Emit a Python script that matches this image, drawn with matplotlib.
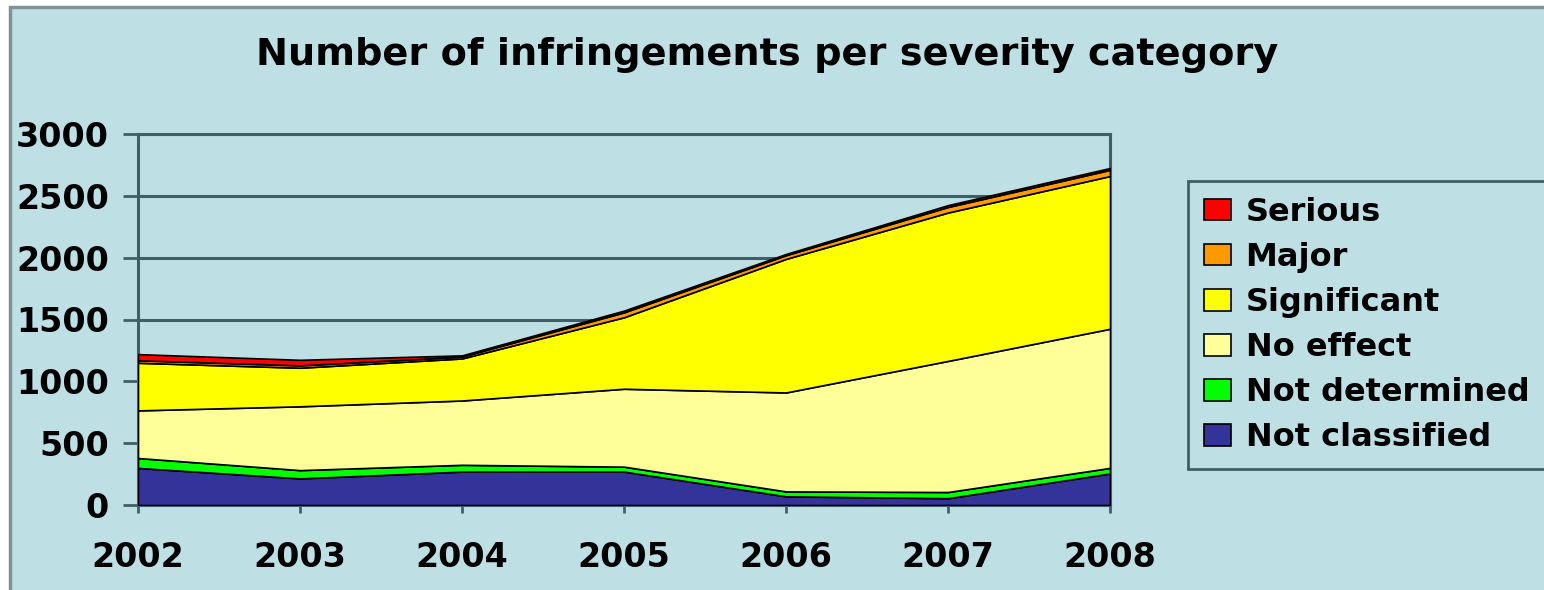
import matplotlib.pyplot as plt
from matplotlib.patches import Rectangle

years = [2002, 2003, 2004, 2005, 2006, 2007, 2008]

# valores (apilados de abajo hacia arriba)
not_classified = [300, 215, 270, 270, 70, 55, 255]
not_determined = [80, 67, 55, 40, 40, 50, 45]
no_effect = [385, 516, 520, 630, 800, 1060, 1125]
significant = [385, 312, 340, 578, 1080, 1200, 1235]
major = [20, 19, 15, 40, 30, 45, 50]
serious = [50, 45, 10, 14, 10, 15, 15]

labels = ['Not classified', 'Not determined', 'No effect', 'Significant', 'Major', 'Serious']
colores = ['#333399', '#00FF00', '#FFFF99', '#FFFF00', '#FF9900', '#FF0000']

y_ticks = [0, 500, 1000, 1500, 2000, 2500, 3000]

fondo = '#BEE0E4'
gris = '#3F5F66'

plt.rcParams['font.family'] = 'DejaVu Sans'
plt.rcParams['font.weight'] = 'bold'

fig = plt.figure(figsize=(15.44, 5.90), dpi=100, facecolor='white')

# marco exterior azul claro
fig.patches.append(Rectangle((10 / 1544, -0.05), 1.1, 1 - 7 / 590 + 0.05,
                             transform=fig.transFigure, facecolor=fondo,
                             edgecolor='#7F9396', linewidth=2.5, zorder=-10))

ax = fig.add_axes([138 / 1544, 1 - 505 / 590, 972 / 1544, 371 / 590])
ax.set_zorder(2)
ax.set_facecolor(fondo)

ax.stackplot(years, not_classified, not_determined, no_effect, significant, major, serious,
             labels=labels, colors=colores, edgecolor='black', linewidth=1.2, zorder=3)

ax.set_xlim(years[0], years[-1])
ax.set_ylim(0, 3000)
ax.set_xticks(years)
ax.set_yticks(y_ticks)
ax.yaxis.grid(True, color=gris, linewidth=2.2, zorder=1)
ax.set_axisbelow(True)

for s in ['left', 'right', 'top', 'bottom']:
    ax.spines[s].set_color(gris)
    ax.spines[s].set_linewidth(2.2)

ax.tick_params(axis='y', length=11, width=2, color=gris, pad=10, labelsize=24)
ax.tick_params(axis='x', length=6, width=2, color=gris, pad=20, labelsize=24)
for t in ax.get_xticklabels() + ax.get_yticklabels():
    t.set_fontweight('bold')

fig.text(0.497, 0.907, 'Number of infringements per severity category',
         ha='center', va='center', fontsize=27.5, fontweight='bold')

handles, labs = ax.get_legend_handles_labels()
leg = fig.legend(handles[::-1], labs[::-1], loc='upper left',
                 bbox_to_anchor=(1188 / 1544, 1 - 181 / 590),
                 prop={'size': 23, 'weight': 'bold'}, frameon=True, fancybox=False,
                 handlelength=0.85, handleheight=0.65, handletextpad=0.45,
                 labelspacing=0.44, borderpad=0.5, borderaxespad=0)
leg.get_frame().set_facecolor(fondo)
leg.get_frame().set_edgecolor(gris)
leg.get_frame().set_linewidth(2)
leg.get_frame().set_alpha(1)

plt.savefig('out.png', dpi=100, facecolor='white')
